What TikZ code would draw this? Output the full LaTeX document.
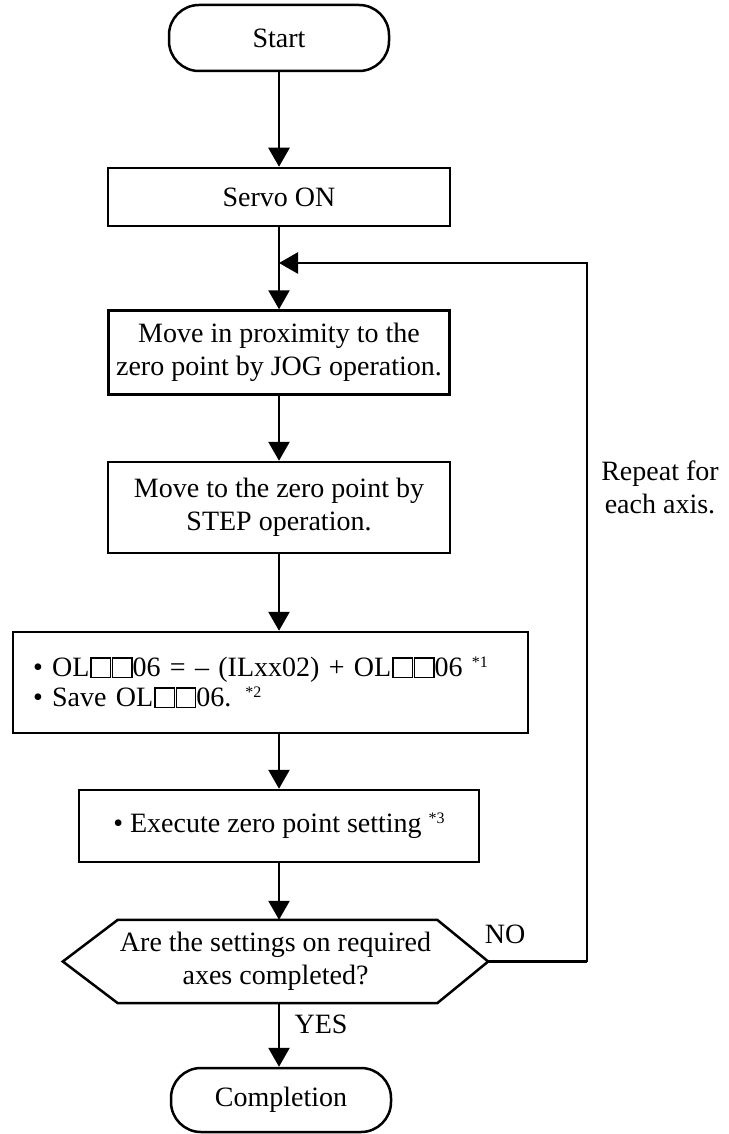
\documentclass[tikz,border=0pt]{standalone}
\usepackage{fontspec}
\setmainfont{Liberation Serif}
\usetikzlibrary{arrows.meta}
\newcommand\sqb{\kern1pt{\setlength\fboxsep{0pt}\setlength\fboxrule{1.3pt}\fbox{\rule{0pt}{18pt}\hspace{18pt}}}}
\newcommand\nt[1]{\raisebox{9pt}{\fontsize{16}{16}\selectfont *#1}}
\tikzset{
  txt/.style={font=\fontsize{28}{33}\selectfont},
  proc/.style={txt, draw, line width=2.5pt, align=center, inner sep=0pt},
  term/.style={proc, rounded corners=30pt},
  arr/.style={line width=2.5pt, -{Triangle[length=19pt,width=21pt]}},
  conn/.style={line width=2.5pt},
  lbl/.style={txt, inner sep=0pt, align=center}
}
\begin{document}
\begin{tikzpicture}[x=1pt,y=-1pt]
\useasboundingbox (0,0) rectangle (728,1134);
\node[term, minimum width=220pt, minimum height=66pt] (start) at (279,38) {Start};
\node[proc, minimum width=342pt, minimum height=58pt] (servo) at (279,197) {Servo ON};
\node[proc, minimum width=341pt, minimum height=84pt] (jog) at (279,352.5) {Move in proximity to the\\zero point by JOG operation.};
\node[proc, minimum width=342pt, minimum height=91pt] (step) at (279,507.5) {Move to the zero point by\\STEP operation.};
\node[proc, minimum width=515pt, minimum height=101pt, align=left, text width=475pt] (ol) at (270.5,682.5)
  {\textbullet\ OL\sqb\sqb 06 = – (ILxx02) + OL\sqb\sqb 06 \nt{1}\\[-3pt]\textbullet\ Save OL\sqb\sqb 06. \nt{2}\\[-6pt]};
\node[proc, minimum width=400pt, minimum height=72pt] (exe) at (279,826) {\textbullet\ Execute zero point setting \nt{3}};
\node[lbl, minimum width=425pt, minimum height=83pt] (dec) at (275.5,961.5) {Are the settings on required\\axes completed?};
\draw[line width=2.5pt, line join=miter] (dec.west) -- ([xshift=55pt]dec.north west) -- ([xshift=-51pt]dec.north east)
  -- (dec.east) -- ([xshift=-51pt]dec.south east) -- ([xshift=55pt]dec.south west) -- cycle;
\node[term, minimum width=220pt, minimum height=64pt] (comp) at (281,1100) {Completion};
\node[lbl] (no) at (505,934) {NO};
\node[lbl] (yes) at (321,1024) {YES};
\node[lbl] (rep) at (660,487) {Repeat for\\each axis.};
\coordinate (j) at (279,263);
\coordinate (lr) at (587,961.5);
\coordinate (lt) at (587,263);
\draw[arr] (start.south) -- (servo.north);
\draw[arr] (servo.south) -- (jog.north);
\draw[arr] (lr) -- (lt) -- (j);
\draw[conn] (dec.east) -- (lr);
\draw[arr] (jog.south) -- (step.north);
\draw[arr] (step.south) -- (step.south |- ol.north);
\draw[arr] (step.south |- ol.south) -- (exe.north);
\draw[arr] (exe.south) -- (exe.south |- dec.north);
\draw[arr] (exe.south |- dec.south) -- (exe.south |- comp.north);
\end{tikzpicture}
\end{document}
